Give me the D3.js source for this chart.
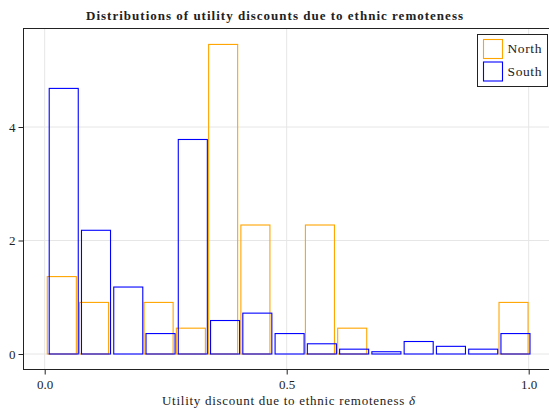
<!DOCTYPE html>
<html>
<head>
<meta charset="utf-8">
<script src="https://cdn.jsdelivr.net/npm/d3@7"></script>
<style>
  html, body { margin: 0; padding: 0; background: #fff; }
  svg { display: block; }
  text { font-family: "Liberation Serif", "DejaVu Serif", serif; fill: #222; }
</style>
</head>
<body>
<svg id="chart" width="549" height="409"></svg>
<script>
// ---- data ----
const seriesNames = ["North", "South"];
const seriesColors = ["#FFA500", "#0000FF"];
const binStarts = [0.002, 0.006];           // lower edge of first bin, per series
const binWidth = 1 / 15;
const northDensity = [1.364, 0.909, 0, 0.909, 0.455, 5.455, 2.273, 0, 2.273, 0.455, 0, 0, 0, 0, 0.909];
const southDensity = [4.68, 2.18, 1.18, 0.36, 3.78, 0.59, 0.72, 0.36, 0.18, 0.085, 0.04, 0.22, 0.135, 0.085, 0.36];
const xTicks = [0.0, 0.5, 1.0];
const xTickLabels = ["0.0", "0.5", "1.0"];
const yTicks = [0, 2, 4];
const yTickLabels = ["0", "2", "4"];
const title = "Distributions of utility discounts due to ethnic remoteness";
const xLabel = "Utility discount due to ethnic remoteness ";
const xLabelSymbol = "δ";

// ---- layout ----
const svg = d3.select("#chart");
const frame = { left: 23.5, right: 550, top: 28.5, bottom: 369.5 };
const x = d3.scaleLinear().domain([0, 1]).range([44.7, 528.7]);
const y = d3.scaleLinear().domain([0, 4]).range([354, 127]);

// gridlines
const grid = svg.append("g");
grid.selectAll("line.gx").data(xTicks).join("line")
  .attr("x1", d => x(d)).attr("x2", d => x(d))
  .attr("y1", frame.top).attr("y2", frame.bottom)
  .attr("stroke", "#e6e6e6").attr("stroke-width", 1);
grid.selectAll("line.gy").data(yTicks).join("line")
  .attr("y1", d => y(d)).attr("y2", d => y(d))
  .attr("x1", frame.left).attr("x2", frame.right)
  .attr("stroke", "#e6e6e6").attr("stroke-width", 1);

// bars
const series = [northDensity, southDensity];
series.forEach((vals, si) => {
  const data = vals.map((v, i) => ({
    x0: binStarts[si] + i * binWidth,
    x1: binStarts[si] + (i + 1) * binWidth,
    v
  })).filter(d => d.v > 0);
  svg.append("g").selectAll("rect").data(data).join("rect")
    .attr("x", d => x(d.x0 + 0.05 * binWidth))
    .attr("width", d => x(d.x1 - 0.05 * binWidth) - x(d.x0 + 0.05 * binWidth))
    .attr("y", d => y(d.v))
    .attr("height", d => y(0) - y(d.v))
    .attr("fill", "none")
    .attr("stroke", seriesColors[si])
    .attr("stroke-width", 1.1);
});

// frame
svg.append("rect")
  .attr("x", frame.left).attr("y", frame.top)
  .attr("width", frame.right - frame.left).attr("height", frame.bottom - frame.top)
  .attr("fill", "none").attr("stroke", "#222").attr("stroke-width", 1);

// axes
const xAxis = d3.axisBottom(x).tickValues(xTicks).tickFormat((d, i) => xTickLabels[i]).tickSize(5).tickSizeOuter(0);
const gx = svg.append("g").attr("transform", `translate(0,${frame.bottom})`).call(xAxis);
gx.select(".domain").remove();
gx.selectAll("line").attr("stroke", "#222");
gx.selectAll("text").attr("font-size", 13).attr("dy", "0.9em").attr("fill", "#222")
  .attr("font-family", "'Liberation Serif', serif");

const yAxis = d3.axisLeft(y).tickValues(yTicks).tickFormat((d, i) => yTickLabels[i]).tickSize(5).tickSizeOuter(0);
const gy = svg.append("g").attr("transform", `translate(${frame.left},0)`).call(yAxis);
gy.select(".domain").remove();
gy.selectAll("line").attr("stroke", "#222");
gy.selectAll("text").attr("font-size", 13).attr("fill", "#222")
  .attr("font-family", "'Liberation Serif', serif");

// title
svg.append("text").attr("x", 274.5).attr("y", 19.5)
  .attr("text-anchor", "middle").attr("font-weight", "bold").attr("font-size", 13)
  .attr("textLength", 377).attr("lengthAdjust", "spacing")
  .text(title);

// x label
const xl = svg.append("text").attr("x", 288.5).attr("y", 405)
  .attr("text-anchor", "middle").attr("font-size", 13)
  .attr("textLength", 253).attr("lengthAdjust", "spacing");
xl.append("tspan").text(xLabel);
xl.append("tspan").attr("font-style", "italic").text(xLabelSymbol);

// legend
const lg = svg.append("g");
lg.append("rect").attr("x", 477.5).attr("y", 34.5).attr("width", 70).attr("height", 52)
  .attr("fill", "#fff").attr("stroke", "#222").attr("stroke-width", 1);
seriesNames.forEach((name, i) => {
  lg.append("rect").attr("x", 483.5).attr("y", 39.5 + i * 22.5).attr("width", 19).attr("height", 19)
    .attr("fill", "none").attr("stroke", seriesColors[i]).attr("stroke-width", 1.1);
  lg.append("text").attr("x", 507.5).attr("y", 53 + i * 22.5).attr("font-size", 13.5)
    .attr("textLength", 34).attr("lengthAdjust", "spacing").text(name);
});
</script>
</body>
</html>
